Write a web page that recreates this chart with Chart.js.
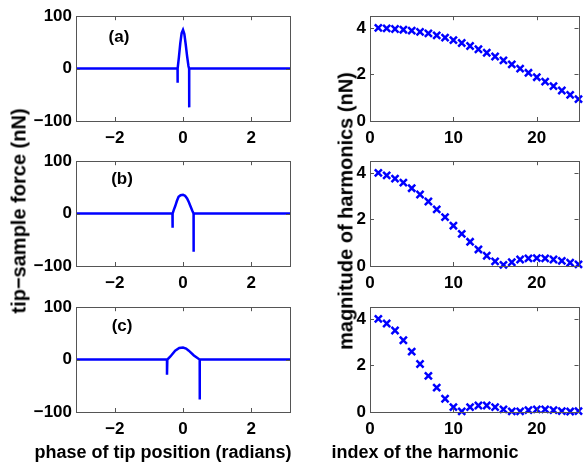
<!DOCTYPE html>
<html>
<head>
<meta charset="utf-8">
<script src="https://cdn.jsdelivr.net/npm/chart.js@4.4.1/dist/chart.umd.min.js"></script>
<style>
  body { margin: 0; background: #fff; }
  #fig { position: relative; width: 586px; height: 464px; overflow: hidden; font-family: 'Liberation Sans', Arial, sans-serif; font-weight: bold; }
  #fig canvas { position: absolute; }
  .title { position: absolute; white-space: nowrap; color: #000; }
  .ytitle { transform: translate(-50%, -50%) rotate(-90deg); font-size: 20px; }
  .xtitle { transform: translate(-50%, -50%); font-size: 18px; }
</style>
</head>
<body>
<div id="fig">
  <canvas id="fa" width="300" height="149" style="left:0;top:2px"></canvas>
  <canvas id="fb" width="300" height="149" style="left:0;top:147px"></canvas>
  <canvas id="fc" width="300" height="149" style="left:0;top:293px"></canvas>
  <canvas id="ha" width="286" height="149" style="left:300px;top:2px"></canvas>
  <canvas id="hb" width="286" height="149" style="left:300px;top:147px"></canvas>
  <canvas id="hc" width="286" height="149" style="left:300px;top:293px"></canvas>
  <div class="title ytitle" style="left:19px;top:211px">tip−sample force (nN)</div>
  <div class="title ytitle" style="left:346px;top:211px">magnitude of harmonics (nN)</div>
  <div class="title xtitle" style="left:163px;top:452px">phase of tip position (radians)</div>
  <div class="title xtitle" style="left:425px;top:452px">index of the harmonic</div>
</div>
<script>
// tick labels
const phaseTicks = [-2, 0, 2];
const forceTicks = [-100, 0, 100];
const harmonicTicks = [0, 10, 20];
const magTicks = [0, 2, 4];

// left column: force vs phase
const phaseA = [-3.1416, -0.16, -0.16, -0.155, -0.12, -0.08, -0.04, 0, 0.04, 0.08, 0.12, 0.16, 0.18, 0.18, 0.185, 3.1416];
const forceA = [0, 0, -27, 0, 22, 48, 68, 74, 66, 46, 24, 5, 0, -74, 0, 0];

const phaseB = [-3.1416, -0.31, -0.31, -0.30, -0.27, -0.23, -0.18, -0.13, -0.07, 0, 0.06, 0.12, 0.17, 0.22, 0.27, 0.31, 0.31, 0.315, 3.1416];
const forceB = [0, 0, -27, 0, 7, 14, 24, 32, 35, 36, 34, 29, 22, 14, 6, 0, -73, 0, 0];

const phaseC = [-3.1416, -0.47, -0.47, -0.46, -0.37, -0.23, -0.11, 0, 0.09, 0.17, 0.32, 0.49, 0.49, 0.495, 3.1416];
const forceC = [0, 0, -29, 0, 6, 17, 22, 23, 21, 17, 8, 0, -76, 0, 0];

// right column: harmonic magnitudes
const harmonic = [1, 2, 3, 4, 5, 6, 7, 8, 9, 10, 11, 12, 13, 14, 15, 16, 17, 18, 19, 20, 21, 22, 23, 24, 25];
const magA = [4.0, 3.98, 3.95, 3.92, 3.88, 3.83, 3.76, 3.68, 3.58, 3.47, 3.35, 3.22, 3.08, 2.93, 2.77, 2.6, 2.43, 2.25, 2.07, 1.88, 1.69, 1.5, 1.31, 1.12, 0.94];
const magB = [4.0, 3.89, 3.75, 3.58, 3.34, 3.07, 2.77, 2.43, 2.10, 1.73, 1.38, 1.04, 0.71, 0.44, 0.2, 0.05, 0.16, 0.28, 0.33, 0.34, 0.33, 0.28, 0.22, 0.14, 0.07];
const magC = [4.0, 3.8, 3.5, 3.08, 2.59, 2.06, 1.55, 1.05, 0.57, 0.21, 0.03, 0.21, 0.28, 0.28, 0.21, 0.11, 0.03, 0.03, 0.08, 0.11, 0.11, 0.08, 0.04, 0.02, 0.04];

const FONT = { family: "'Liberation Sans', Arial, sans-serif", size: 17, weight: 'bold' };

function pairs(xs, ys) {
  return xs.map((x, i) => ({ x: x, y: ys[i] }));
}

function minus(v) {
  return String(v).replace('-', '\u2212');
}

// matlab style box with inward ticks + panel letter
const boxPlugin = {
  id: 'matlabBox',
  afterDraw(chart, args, opts) {
    const a = chart.chartArea;
    const ctx = chart.ctx;
    const xs = chart.scales.x, ys = chart.scales.y;
    ctx.save();
    ctx.strokeStyle = '#555';
    ctx.lineWidth = 1;
    ctx.strokeRect(Math.round(a.left) + 0.5, Math.round(a.top) + 0.5, Math.round(a.right - a.left), Math.round(a.bottom - a.top));
    ctx.beginPath();
    xs.ticks.forEach(t => {
      const p = Math.round(xs.getPixelForValue(t.value)) + 0.5;
      ctx.moveTo(p, a.bottom); ctx.lineTo(p, a.bottom - 4);
      ctx.moveTo(p, a.top); ctx.lineTo(p, a.top + 4);
    });
    ys.ticks.forEach(t => {
      const p = Math.round(ys.getPixelForValue(t.value)) + 0.5;
      ctx.moveTo(a.left, p); ctx.lineTo(a.left + 4, p);
      ctx.moveTo(a.right, p); ctx.lineTo(a.right - 4, p);
    });
    ctx.stroke();
    if (opts && opts.text) {
      ctx.fillStyle = '#000';
      ctx.font = 'bold 17px ' + FONT.family;
      ctx.textAlign = 'center';
      ctx.textBaseline = 'middle';
      ctx.fillText(opts.text, xs.getPixelForValue(opts.x), ys.getPixelForValue(opts.y));
    }
    ctx.restore();
  }
};

function axes(xMin, xMax, xTicks, yMin, yMax, yTicks, yWidth) {
  return {
    x: {
      type: 'linear', min: xMin, max: xMax,
      grid: { display: false, drawTicks: false },
      border: { display: false },
      afterBuildTicks: s => { s.ticks = xTicks.map(v => ({ value: v })); },
      afterFit: s => { s.height = 30; },
      ticks: { font: FONT, color: '#000', padding: 7, maxRotation: 0, callback: v => minus(v) }
    },
    y: {
      type: 'linear', min: yMin, max: yMax,
      grid: { display: false, drawTicks: false },
      border: { display: false },
      afterBuildTicks: s => { s.ticks = yTicks.map(v => ({ value: v })); },
      afterFit: s => { s.width = yWidth; },
      ticks: { font: FONT, color: '#000', padding: 4, callback: v => minus(v) }
    }
  };
}

function forceChart(id, xs, ys, label, lx, ly) {
  new Chart(document.getElementById(id), {
    type: 'scatter',
    data: {
      datasets: [{
        data: pairs(xs, ys),
        showLine: true,
        borderColor: '#0000ff',
        borderWidth: 2.5,
        pointRadius: 0,
        tension: 0
      }]
    },
    options: {
      responsive: false,
      animation: false,
      layout: { padding: { top: 10, right: 10, left: 0, bottom: 0 } },
      scales: axes(-Math.PI, Math.PI, phaseTicks, -100, 100, forceTicks, 76),
      plugins: {
        legend: { display: false },
        tooltip: { enabled: false },
        matlabBox: { text: label, x: lx, y: ly }
      }
    },
    plugins: [boxPlugin]
  });
}

function harmonicChart(id, ys) {
  new Chart(document.getElementById(id), {
    type: 'scatter',
    data: {
      datasets: [{
        data: pairs(harmonic, ys),
        pointStyle: 'crossRot',
        pointRadius: 5,
        pointBorderWidth: 2.5,
        borderColor: '#0000ff',
        backgroundColor: '#0000ff',
        clip: false
      }]
    },
    options: {
      responsive: false,
      animation: false,
      layout: { padding: { top: 10, right: 2, left: 0, bottom: 0 } },
      scales: axes(0, 25, harmonicTicks, 0, 4.5, magTicks, 70),
      plugins: {
        legend: { display: false },
        tooltip: { enabled: false },
        matlabBox: {}
      }
    },
    plugins: [boxPlugin]
  });
}

forceChart('fa', phaseA, forceA, '(a)', -1.88, 60);
forceChart('fb', phaseB, forceB, '(b)', -1.79, 65);
forceChart('fc', phaseC, forceC, '(c)', -1.79, 63);
harmonicChart('ha', magA);
harmonicChart('hb', magB);
harmonicChart('hc', magC);
</script>
</body>
</html>
